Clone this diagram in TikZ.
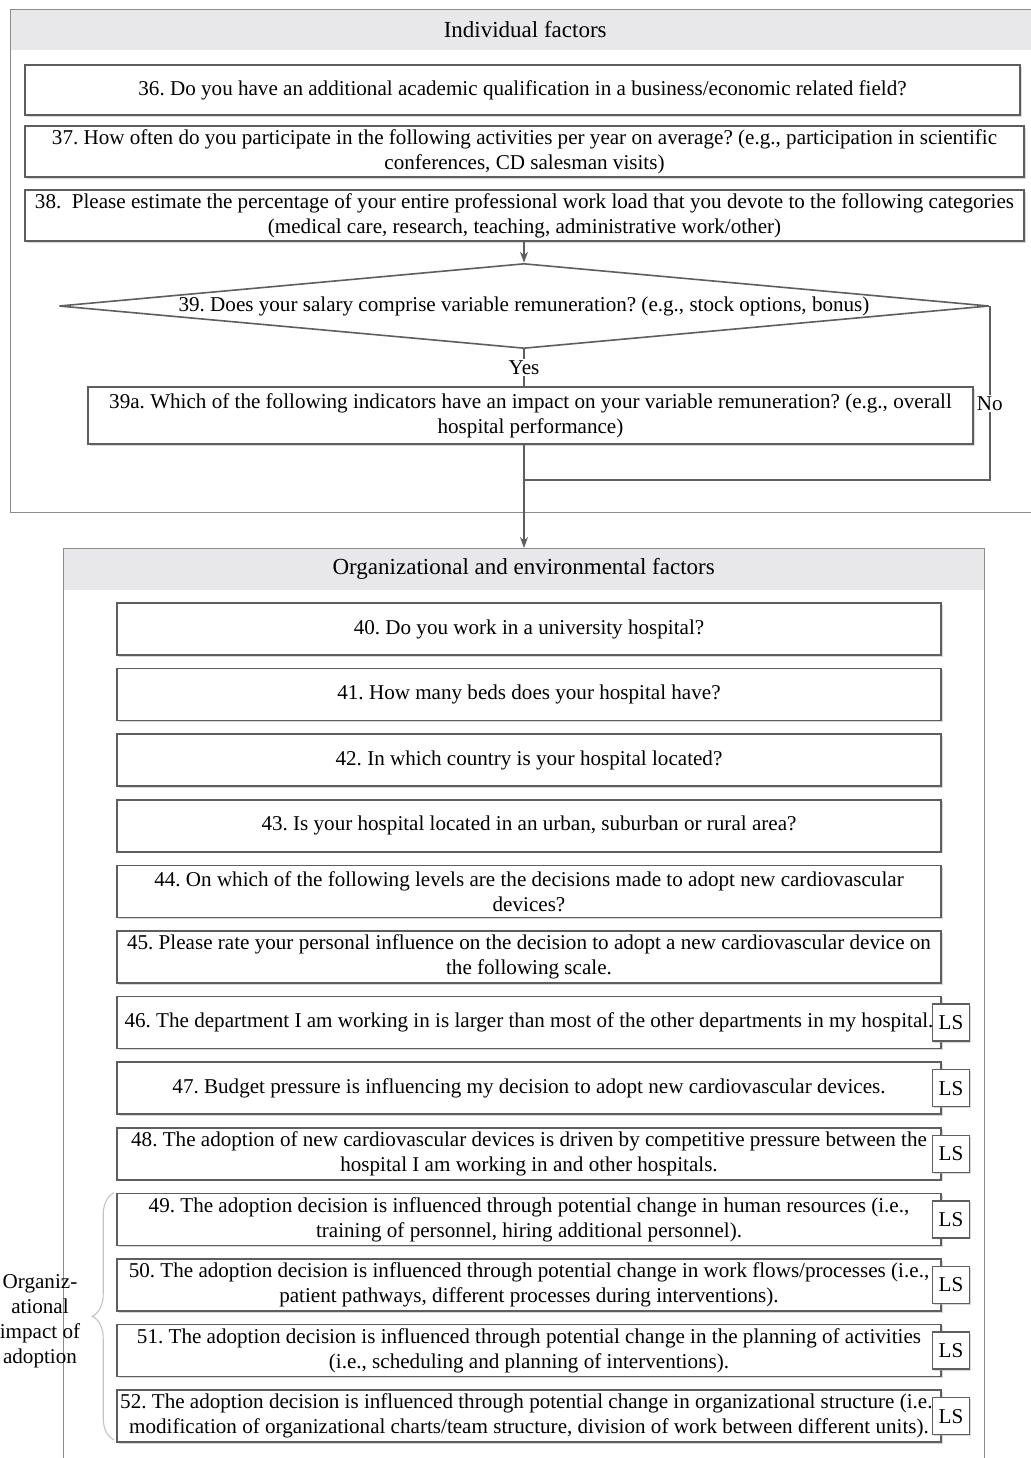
\documentclass[tikz,border=0pt]{standalone}
\usepackage{fontspec}
\setmainfont{Liberation Serif}
\usetikzlibrary{shapes.geometric,arrows.meta,decorations.pathreplacing,shadows}
\definecolor{boxline}{HTML}{5E5E5E}
\definecolor{frameline}{HTML}{8C8C8C}
\definecolor{headfill}{HTML}{E8E8EA}
\definecolor{bracecol}{HTML}{C4C4C4}
\newcommand\qfont{\fontsize{21.1}{25}\selectfont}
\newcommand\hfont{\fontsize{23}{25}\selectfont}
\frenchspacing
\tikzset{
  qbox/.style={draw=boxline, line width=1.6pt, fill=white, inner sep=0pt, align=center, font=\qfont,
    drop shadow={shadow xshift=1.6pt, shadow yshift=-1.6pt, fill=black!30, opacity=0.5}},
  lsbox/.style={draw=boxline, line width=1.3pt, fill=white, minimum width=37pt, minimum height=37pt, inner sep=0pt, font=\qfont,
    drop shadow={shadow xshift=1.4pt, shadow yshift=-1.4pt, fill=black!30, opacity=0.5}},
  framebox/.style={draw=frameline, line width=1.3pt, inner sep=0pt, anchor=north west},
  headbox/.style={fill=headfill, draw=none, inner sep=0pt, anchor=north west, font=\hfont},
  conn/.style={draw=boxline, line width=1.6pt},
  arr/.style={conn, -{Stealth[length=11pt,width=8pt]}, shorten >=0pt},
  lbl/.style={fill=white, inner sep=1.5pt, font=\qfont},
}
\begin{document}
\begin{tikzpicture}[x=1pt,y=-1pt]
\useasboundingbox[fill=white] (0,0) rectangle (1030,1458);

% ---------- Individual factors ----------
\node[headbox, minimum width=1030pt, minimum height=41pt] (indhead) at (10,9) {Individual factors};
\node[framebox, minimum width=1030pt, minimum height=503pt] (indframe) at (10,9) {};

\node[qbox, minimum width=995pt, minimum height=50pt] (q36) at (522.5,90)
  {36. Do you have an additional academic qualification in a business/economic related field?};
\node[qbox, minimum width=999pt, minimum height=51pt] (q37) at (524.5,151.5)
  {37. How often do you participate in the following activities per year on average? (e.g., participation in scientific\\conferences, CD salesman visits)};
\node[qbox, minimum width=999pt, minimum height=51pt] (q38) at (524.5,215.5)
  {38.\ \ Please estimate the percentage of your entire professional work load that you devote to the following categories\\(medical care, research, teaching, administrative work/other)};

\node[diamond, draw=boxline, line width=1.6pt, fill=white, aspect=10.94, inner sep=0pt,
      minimum width=930pt, minimum height=85pt] (q39) at (524,306) {};
\node[font=\qfont, inner sep=0pt] (q39t) at (q39.center) {39. Does your salary comprise variable remuneration? (e.g., stock options, bonus)};

\node[qbox, minimum width=885pt, minimum height=57pt] (q39a) at (530.5,415.5)
  {39a. Which of the following indicators have an impact on your variable remuneration? (e.g., overall\\hospital performance)};

\coordinate (nojoin) at (524,480);

\draw[arr] (q38.south -| q39.north) -- (q39.north);
\draw[conn] (q39.south) -- node[lbl] {Yes} (q39.south |- q39a.north);
\draw[conn] (q39.east) |- node[lbl, pos=0.28] {No} (nojoin);

% ---------- Organizational and environmental factors ----------
\node[headbox, minimum width=921pt, minimum height=42pt] (orghead) at (63,548) {Organizational and environmental factors};
\node[framebox, minimum width=921pt, minimum height=1000pt] (orgframe) at (63,548) {};

\draw[arr] (q39a.south -| nojoin) -- (orghead.north -| nojoin);

\node[qbox, minimum width=824pt, minimum height=52pt] (q40) at (529,629) {40. Do you work in a university hospital?};
\node[qbox, minimum width=824pt, minimum height=52pt] (q41) at (529,694.6) {41. How many beds does your hospital have?};
\node[qbox, minimum width=824pt, minimum height=52pt] (q42) at (529,760.2) {42. In which country is your hospital located?};
\node[qbox, minimum width=824pt, minimum height=52pt] (q43) at (529,825.8) {43. Is your hospital located in an urban, suburban or rural area?};
\node[qbox, minimum width=824pt, minimum height=52pt] (q44) at (529,891.4) {44. On which of the following levels are the decisions made to adopt new cardiovascular\\devices?};
\node[qbox, minimum width=824pt, minimum height=52pt] (q45) at (529,957.0) {45. Please rate your personal influence on the decision to adopt a new cardiovascular device on\\the following scale.};
\node[qbox, minimum width=824pt, minimum height=52pt] (q46) at (529,1022.6) {46. The department I am working in is larger than most of the other departments in my hospital.};
\node[qbox, minimum width=824pt, minimum height=52pt] (q47) at (529,1088.2) {47. Budget pressure is influencing my decision to adopt new cardiovascular devices.};
\node[qbox, minimum width=824pt, minimum height=52pt] (q48) at (529,1153.8) {48. The adoption of new cardiovascular devices is driven by competitive pressure between the\\hospital I am working in and other hospitals.};
\node[qbox, minimum width=824pt, minimum height=52pt] (q49) at (529,1219.4) {49. The adoption decision is influenced through potential change in human resources (i.e.,\\training of personnel, hiring additional personnel).};
\node[qbox, minimum width=824pt, minimum height=52pt] (q50) at (529,1285.0) {50. The adoption decision is influenced through potential change in work flows/processes (i.e.,\\patient pathways, different processes during interventions).};
\node[qbox, minimum width=824pt, minimum height=52pt] (q51) at (529,1350.6) {51. The adoption decision is influenced through potential change in the planning of activities\\(i.e., scheduling and planning of interventions).};
\node[qbox, minimum width=824pt, minimum height=52pt] (q52) at (529,1416.2) {52. The adoption decision is influenced through potential change in organizational structure (i.e.,\\modification of organizational charts/team structure, division of work between different units).};

\foreach \i in {46,...,52} {
  \node[lsbox] (ls\i) at (951, 0 |- q\i.center) {LS};
}

% brace
\draw[draw=bracecol, line width=1.1pt, decorate, decoration={brace, amplitude=22pt}]
  (q52.south west) ++(-2,-3) coordinate (brb) -- (q49.north west -| brb) coordinate (brt);
\node[font=\qfont, align=center, inner sep=0pt] (braceLbl) at (40,1321) {Organiz-\\ational\\impact of\\adoption};
\end{tikzpicture}
\end{document}
